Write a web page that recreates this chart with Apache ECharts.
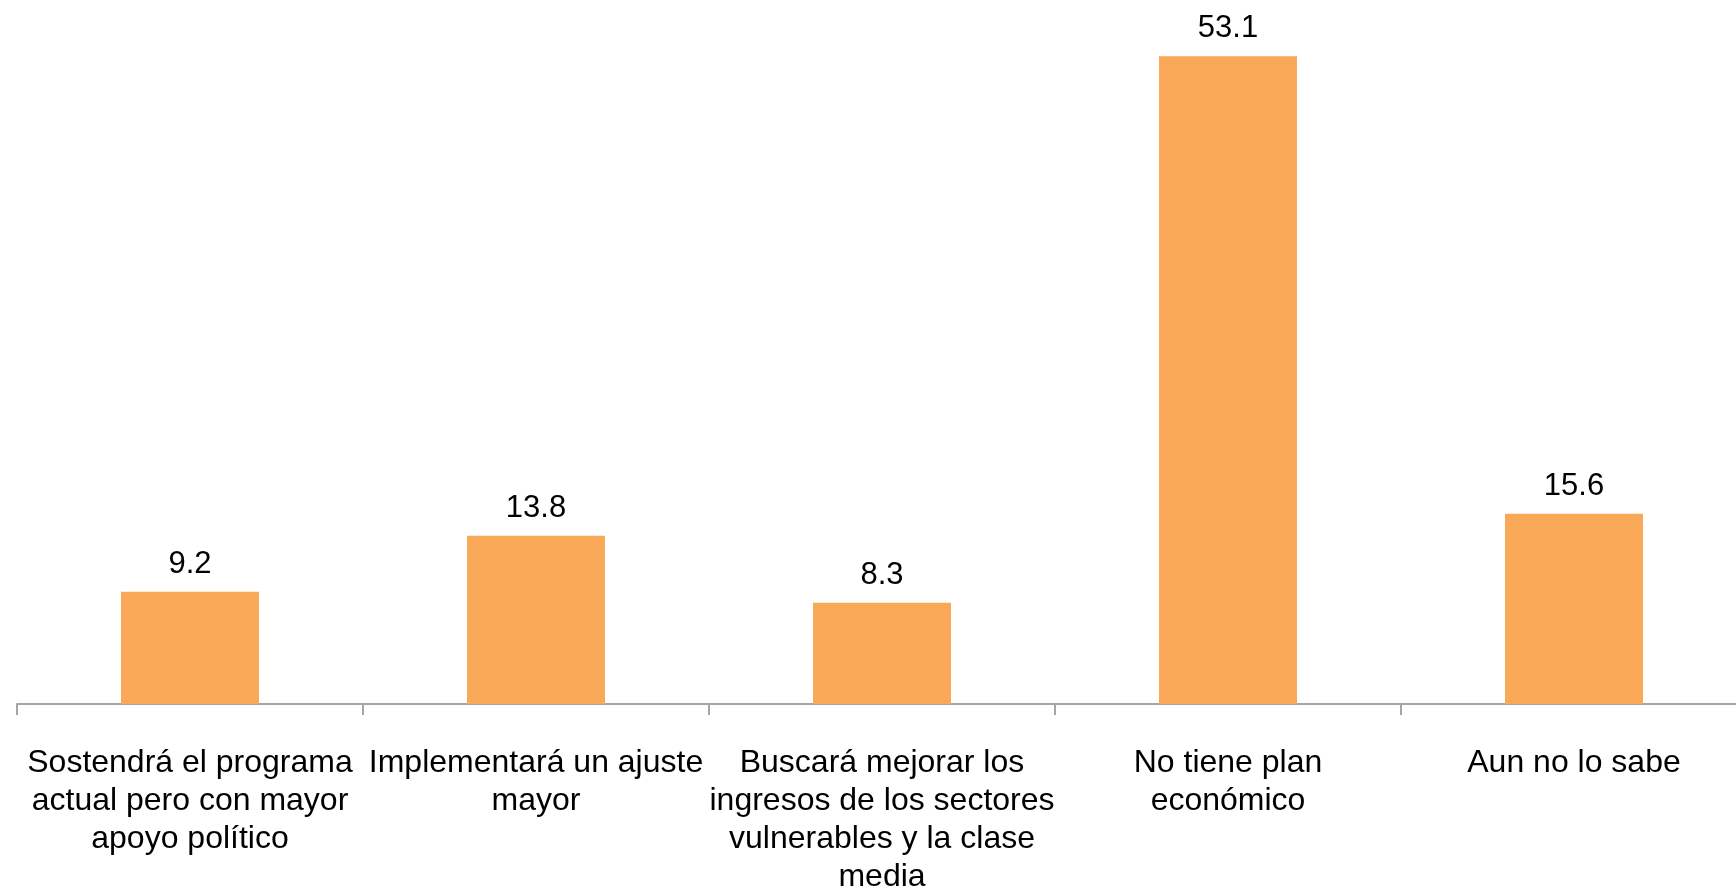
<!DOCTYPE html>
<html>
<head>
<meta charset="utf-8">
<script src="https://cdn.jsdelivr.net/npm/echarts@6/dist/echarts.min.js"></script>
<style>
html,body{margin:0;padding:0;background:#fff;}
#chart{width:1736px;height:891px;}
</style>
</head>
<body>
<div id="chart"></div>
<script>
const categories = [
  "Sostendrá el programa\nactual pero con mayor\napoyo político",
  "Implementará un ajuste\nmayor",
  "Buscará mejorar los\ningresos de los sectores\nvulnerables y la clase\nmedia",
  "No tiene plan\neconómico",
  "Aun no lo sabe"
];
const values = [9.2, 13.8, 8.3, 53.1, 15.6];

const chart = echarts.init(document.getElementById('chart'));
chart.setOption({
  animation: false,
  backgroundColor: '#ffffff',
  grid: { left: 17, top: 33, width: 1730, height: 671, containLabel: false, outerBoundsMode: 'none' },
  xAxis: {
    type: 'category',
    data: categories,
    axisLine: { lineStyle: { color: '#a6a6a6', width: 2 } },
    axisTick: { show: true, length: 11, lineStyle: { color: '#a6a6a6', width: 2 } },
    axisLabel: {
      interval: 0,
      color: '#000000',
      fontFamily: 'Liberation Sans, Arial, sans-serif',
      fontSize: 32,
      lineHeight: 38,
      margin: 40,
      align: 'center'
    }
  },
  yAxis: {
    type: 'value',
    min: 0,
    max: 55,
    show: false,
    splitLine: { show: false }
  },
  series: [{
    type: 'bar',
    data: values,
    barWidth: 138,
    itemStyle: { color: '#F9A857' },
    label: {
      show: true,
      position: 'top',
      distance: 12,
      color: '#000000',
      fontFamily: 'Liberation Sans, Arial, sans-serif',
      fontSize: 31,
      formatter: p => p.value.toFixed(1)
    }
  }]
});
</script>
</body>
</html>
